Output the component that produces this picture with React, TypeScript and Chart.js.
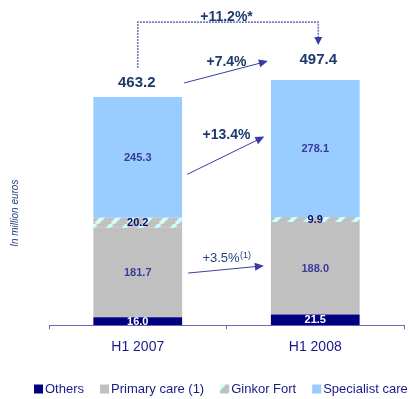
import React, { useEffect, useRef } from "react";
import { Chart, registerables } from "chart.js";

Chart.register(...registerables);

// ---------- data ----------
const categories = ["H1 2007", "H1 2008"];
const seriesNames = ["Others", "Primary care (1)", "Ginkor Fort", "Specialist care"];
const others = [16.0, 21.5];
const primaryCare = [181.7, 188.0];
const ginkorFort = [20.2, 9.9];
const specialistCare = [245.3, 278.1];
const totals = [463.2, 497.4];
const growthTotal = "+7.4%";
const growthSpecialist = "+13.4%";
const growthPrimary = "+3.5%";
const growthPrimaryNote = "(1)";
const growthLikeForLike = "+11.2%*";
const yTitle = "In million euros";

// ---------- style ----------
const FONT = "Arial, 'Liberation Sans', Helvetica, sans-serif";
const NAVY = "#000080";
const GRAY = "#c0c0c0";
const CYAN = "#ccffff";
const LIGHTBLUE = "#99ccff";
const AXIS = "#6b6bb5";
const DARKTEXT = "#1c3a6b";
const ARROW = "#3c3ca0";
const LABEL_COLORS = ["#ffffff", "#3b3b9b", "#0d0d6b", "#3b3b9b"];

function makeHatch(): CanvasPattern | string {
  const c = document.createElement("canvas");
  const P = 16;
  c.width = P;
  c.height = P;
  const g = c.getContext("2d");
  if (!g) return GRAY;
  g.fillStyle = GRAY;
  g.fillRect(0, 0, P, P);
  g.strokeStyle = CYAN;
  g.lineWidth = 4;
  for (let k = -1; k <= 1; k++) {
    g.beginPath();
    g.moveTo(k * P, P);
    g.lineTo(k * P + P, 0);
    g.stroke();
  }
  const ctx = document.createElement("canvas").getContext("2d");
  const pat = ctx ? ctx.createPattern(c, "repeat") : null;
  return pat || GRAY;
}

function drawArrow(ctx: CanvasRenderingContext2D, x1: number, y1: number, x2: number, y2: number) {
  const ang = Math.atan2(y2 - y1, x2 - x1);
  const L = 9;
  const W = 4;
  ctx.save();
  ctx.strokeStyle = ARROW;
  ctx.fillStyle = ARROW;
  ctx.lineWidth = 1;
  ctx.beginPath();
  ctx.moveTo(x1, y1);
  ctx.lineTo(x2 - Math.cos(ang) * L * 0.8, y2 - Math.sin(ang) * L * 0.8);
  ctx.stroke();
  ctx.beginPath();
  ctx.moveTo(x2, y2);
  ctx.lineTo(x2 - Math.cos(ang) * L + Math.sin(ang) * W, y2 - Math.sin(ang) * L - Math.cos(ang) * W);
  ctx.lineTo(x2 - Math.cos(ang) * L - Math.sin(ang) * W, y2 - Math.sin(ang) * L + Math.cos(ang) * W);
  ctx.closePath();
  ctx.fill();
  ctx.restore();
}

const annotations = {
  id: "annotations",
  afterDatasetsDraw(chart: any) {
    const ctx: CanvasRenderingContext2D = chart.ctx;
    const ys = chart.scales.y;
    const area = chart.chartArea;
    const metas = [0, 1, 2, 3].map((i) => chart.getDatasetMeta(i));
    const bar = (d: number, i: number) => metas[d].data[i] as any;

    ctx.save();
    ctx.textAlign = "center";
    ctx.textBaseline = "middle";

    // segment labels
    chart.data.datasets.forEach((ds: any, d: number) => {
      ds.data.forEach((v: number, i: number) => {
        const b = bar(d, i);
        ctx.font = `bold 11px ${FONT}`;
        ctx.fillStyle = LABEL_COLORS[d];
        ctx.fillText(v.toFixed(1), b.x, (b.y + b.base) / 2 + 0.5);
      });
    });

    // totals
    const totalDy = [14.5, 20];
    const totalDx = [-1, 3];
    const totalPos = totals.map((t, i) => ({
      x: bar(0, i).x + totalDx[i],
      y: ys.getPixelForValue(t) - totalDy[i],
    }));
    ctx.font = `bold 15px ${FONT}`;
    ctx.fillStyle = DARKTEXT;
    totals.forEach((t, i) => ctx.fillText(t.toFixed(1), totalPos[i].x, totalPos[i].y));

    const b0 = bar(0, 0);
    const b1 = bar(0, 1);
    const xStart = b0.x + b0.width / 2;
    const xEnd = b1.x - b1.width / 2;
    const midX = (xStart + xEnd) / 2;

    // total arrow
    {
      const y1 = totalPos[0].y + 0.5;
      const y2 = totalPos[1].y + 1;
      drawArrow(ctx, xStart + 2, y1, xEnd - 3, y2);
      ctx.font = `bold 14px ${FONT}`;
      ctx.fillStyle = DARKTEXT;
      ctx.fillText(growthTotal, midX, (y1 + y2) / 2 - 10);
    }
    // specialist arrow
    {
      const s0 = bar(3, 0);
      const s1 = bar(3, 1);
      const y1 = (s0.y + s0.base) / 2 + 17;
      const y2 = (s1.y + s1.base) / 2 - 12;
      drawArrow(ctx, xStart + 5, y1, xEnd - 6.5, y2);
      ctx.font = `bold 14px ${FONT}`;
      ctx.fillStyle = DARKTEXT;
      ctx.fillText(growthSpecialist, midX, (y1 + y2) / 2 - 20.5);
    }
    // primary care arrow
    {
      const p0 = bar(1, 0);
      const p1 = bar(1, 1);
      const y1 = (p0.y + p0.base) / 2 + 0.5;
      const y2 = (p1.y + p1.base) / 2 - 2.5;
      drawArrow(ctx, xStart + 6, y1, xEnd - 7, y2);
      const ly = (y1 + y2) / 2 - 11;
      ctx.font = `13px ${FONT}`;
      const w1 = ctx.measureText(growthPrimary).width;
      ctx.font = `9px ${FONT}`;
      const w2 = ctx.measureText(growthPrimaryNote).width;
      const left = midX - (w1 + w2) / 2;
      ctx.textAlign = "left";
      ctx.fillStyle = "#23407a";
      ctx.font = `13px ${FONT}`;
      ctx.fillText(growthPrimary, left, ly);
      ctx.font = `9px ${FONT}`;
      ctx.fillText(growthPrimaryNote, left + w1 + 0.5, ly - 3);
      ctx.textAlign = "center";
    }

    // dotted bracket (like-for-like growth)
    {
      const lx = b0.x;
      const rx = b1.x + 3;
      const bottomL = totalPos[0].y - 14.5;
      const top = totalPos[1].y - 38;
      const tip = totalPos[1].y - 15;
      ctx.save();
      ctx.strokeStyle = "#7a7ac4";
      ctx.lineWidth = 1.6;
      ctx.setLineDash([2, 1]);
      ctx.beginPath();
      ctx.moveTo(lx, bottomL);
      ctx.lineTo(lx, top);
      ctx.lineTo(rx, top);
      ctx.lineTo(rx, tip - 7);
      ctx.stroke();
      ctx.restore();
      ctx.fillStyle = ARROW;
      ctx.beginPath();
      ctx.moveTo(rx, tip);
      ctx.lineTo(rx - 4, tip - 8);
      ctx.lineTo(rx + 4, tip - 8);
      ctx.closePath();
      ctx.fill();
      ctx.font = `bold 14px ${FONT}`;
      ctx.fillStyle = DARKTEXT;
      ctx.fillText(growthLikeForLike, midX, top - 5);
    }

    // y title
    ctx.save();
    ctx.translate(15, area.bottom - 112);
    ctx.rotate(-Math.PI / 2);
    ctx.font = `italic 10px ${FONT}`;
    ctx.fillStyle = "#1f3f7f";
    ctx.fillText(yTitle, 0, 0);
    ctx.restore();

    // legend
    {
      let x = 34;
      const y = 389;
      const box = 9;
      chart.data.datasets.forEach((ds: any) => {
        ctx.fillStyle = ds.backgroundColor;
        ctx.fillRect(x, y - box / 2, box, box);
        x += box + 2;
        ctx.font = `13px ${FONT}`;
        ctx.fillStyle = "#1a1a88";
        ctx.textAlign = "left";
        ctx.fillText(ds.label, x, y);
        x += ctx.measureText(ds.label).width + 16;
      });
    }
    ctx.restore();
  },
};

export default function App() {
  const ref = useRef<HTMLCanvasElement | null>(null);
  useEffect(() => {
    if (!ref.current) return;
    const hatch = makeHatch();
    const chart = new Chart(ref.current, {
      type: "bar",
      data: {
        labels: categories,
        datasets: [
          { label: seriesNames[0], data: others, backgroundColor: NAVY },
          { label: seriesNames[1], data: primaryCare, backgroundColor: GRAY },
          { label: seriesNames[2], data: ginkorFort, backgroundColor: hatch as any },
          { label: seriesNames[3], data: specialistCare, backgroundColor: LIGHTBLUE },
        ],
      },
      options: {
        animation: false,
        responsive: false,
        datasets: { bar: { barPercentage: 0.5, categoryPercentage: 1.0 } },
        layout: { padding: { left: 49, right: 6, top: 0, bottom: 33 } },
        plugins: { legend: { display: false }, tooltip: { enabled: false } },
        scales: {
          x: {
            stacked: true,
            offset: true,
            grid: {
              display: true,
              drawOnChartArea: false,
              drawTicks: true,
              tickLength: 4,
              color: AXIS,
              offset: true,
            },
            border: { display: true, color: AXIS, width: 1 },
            ticks: { font: { family: FONT, size: 14 }, color: "#1a1a88", padding: 10 },
          },
          y: { stacked: true, display: false, min: 0, max: 660 },
        },
      },
      plugins: [annotations],
    });
    return () => chart.destroy();
  }, []);
  return (
    <div style={{ position: "fixed", left: 0, top: 0, width: 410, height: 399, background: "#fff" }}>
      <canvas ref={ref} width={410} height={399} style={{ display: "block" }} />
    </div>
  );
}
